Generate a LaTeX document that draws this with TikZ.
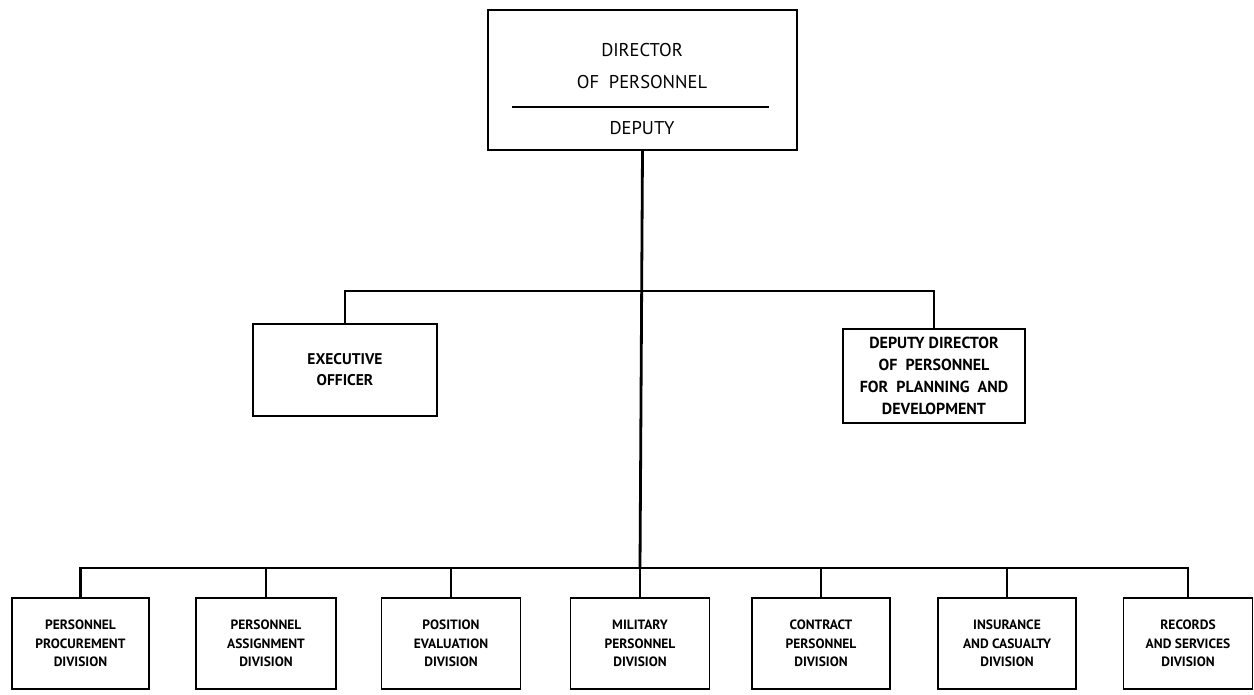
\documentclass[tikz,border=0pt]{standalone}
\usepackage{fontspec}
\setmainfont{PT Sans}
\begin{document}
\begin{tikzpicture}[x=1pt,y=-1pt,
  box/.style={draw,line width=1.8pt,inner sep=0pt,align=center},
  conn/.style={line width=2.8pt},
  small/.style={font=\bfseries\fontsize{13.5}{18.5}\selectfont},
  mid/.style={font=\bfseries\fontsize{16}{22}\selectfont},
  big/.style={font=\fontsize{18.5}{24}\selectfont}]
\useasboundingbox (0,0) rectangle (1254,694);
% top box
\node[box,line width=2.2pt,minimum width=309pt,minimum height=140pt] (top) at (642.5,80) {};
\node[big] (t1) at (642,50) {DIRECTOR};
\node[big] (t2) at (642,82) {OF\ \ PERSONNEL};
\node[big] (t3) at (642,128) {DEPUTY};
\coordinate (dl) at (512,107);
\coordinate (dr) at (769,107);
\draw[line width=1.6pt] (dl) -- (dr);
% second level
\node[box,font=\bfseries\fontsize{15.5}{21}\selectfont,minimum width=184pt,minimum height=92pt] (exec) at (345,370) {EXECUTIVE\\OFFICER};
\node[box,mid,minimum width=182pt,minimum height=94pt] (dep) at (934,376) {DEPUTY DIRECTOR\\OF\ \ PERSONNEL\\FOR\ \ PLANNING\ \ AND\\DEVELOPMENT};
\coordinate (hubA) at (640,291);
\coordinate (hubB) at (640,568);
\draw[conn] (top.south) -- (hubB);
\draw[conn] (exec.north) |- (hubA) -| (dep.north);
% divisions
\node[box,small,minimum width=137pt,minimum height=91pt] (d1) at (80.5,643.5) {PERSONNEL\\PROCUREMENT\\DIVISION};
\node[box,small,minimum width=140pt,minimum height=91pt] (d2) at (266,643.5) {PERSONNEL\\ASSIGNMENT\\DIVISION};
\node[box,small,minimum width=139pt,minimum height=91pt] (d3) at (451,643.5) {POSITION\\EVALUATION\\DIVISION};
\node[box,small,minimum width=139pt,minimum height=91pt] (d4) at (640,643.5) {MILITARY\\PERSONNEL\\DIVISION};
\node[box,small,minimum width=138pt,minimum height=91pt] (d5) at (821,643.5) {CONTRACT\\PERSONNEL\\DIVISION};
\node[box,small,minimum width=138pt,minimum height=91pt] (d6) at (1007,643.5) {INSURANCE\\AND CASUALTY\\DIVISION};
\node[box,small,minimum width=129pt,minimum height=91pt] (d7) at (1188,643.5) {RECORDS\\AND SERVICES\\DIVISION};
\draw[conn] (d1.north) |- (hubB) -| (d7.north);
\foreach \n in {d2,d3,d4,d5,d6} \draw[conn] (\n.north) -- (\n.north |- hubB);
\end{tikzpicture}
\end{document}
